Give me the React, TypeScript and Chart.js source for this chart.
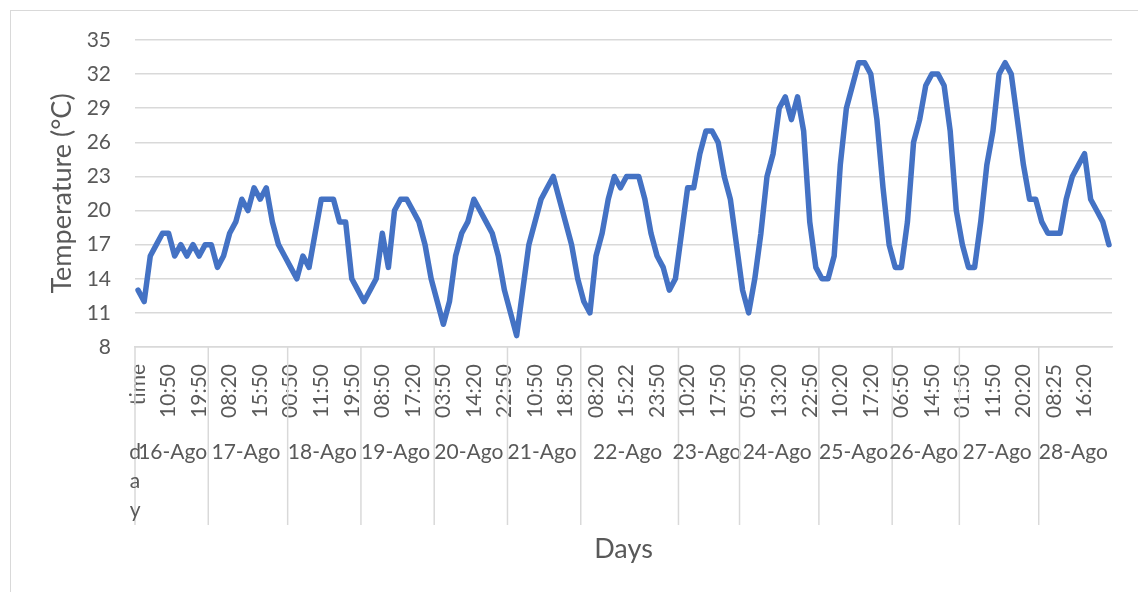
import React, { useEffect, useRef } from "react";
import { Chart, registerables } from "chart.js";

Chart.register(...registerables);

// ---- data ----
const headerDay = "day";
const headerValues = [13];
const days = ["16-Ago", "17-Ago", "18-Ago", "19-Ago", "20-Ago", "21-Ago", "22-Ago", "23-Ago", "24-Ago", "25-Ago", "26-Ago", "27-Ago", "28-Ago"];
const ago16 = [12, 16, 17, 18, 18, 16, 17, 16, 17, 16, 17];
const ago17 = [17, 15, 16, 18, 19, 21, 20, 22, 21, 22, 19, 17, 16];
const ago18 = [15, 14, 16, 15, 18, 21, 21, 21, 19, 19, 14, 13];
const ago19 = [12, 13, 14, 18, 15, 20, 21, 21, 20, 19, 17, 14];
const ago20 = [12, 10, 12, 16, 18, 19, 21, 20, 19, 18, 16, 13];
const ago21 = [11, 9, 13, 17, 19, 21, 22, 23, 21, 19, 17, 14];
const ago22 = [12, 11, 16, 18, 21, 23, 22, 23, 23, 23, 21, 18, 16, 15, 13, 14];
const ago23 = [18, 22, 22, 25, 27, 27, 26, 23, 21, 17];
const ago24 = [13, 11, 14, 18, 23, 25, 29, 30, 28, 30, 27, 19, 15];
const ago25 = [14, 14, 16, 24, 29, 31, 33, 33, 32, 28, 22, 17];
const ago26 = [15, 15, 19, 26, 28, 31, 32, 32, 31, 27, 20];
const ago27 = [17, 15, 15, 19, 24, 27, 32, 33, 32, 28, 24, 21, 21];
const ago28 = [19, 18, 18, 18, 21, 23, 24, 25, 21, 20, 19, 17];
const timeTicks = ["time", "10:50", "19:50", "08:20", "15:50", "00:50", "11:50", "19:50", "08:50", "17:20", "03:50", "14:20", "22:50", "10:50", "18:50", "08:20", "15:22", "23:50", "10:20", "17:50", "05:50", "13:20", "22:50", "10:20", "17:20", "06:50", "14:50", "01:50", "11:50", "20:20", "08:25", "16:20"];
const labelInterval = 5;
const yTicks = [8, 11, 14, 17, 20, 23, 26, 29, 32, 35];
const yTitle = "Temperature (°C)";
const xTitle = "Days";

const FONT = "Lato";
const TEXT = "#595959";
const GRID = "#d9d9d9";

export default function App() {
  const ref = useRef<HTMLCanvasElement>(null);

  useEffect(() => {
    const dayValues = [ago16, ago17, ago18, ago19, ago20, ago21, ago22, ago23, ago24, ago25, ago26, ago27, ago28];
    const groups = [{ label: headerDay, values: headerValues }].concat(
      days.map((d, i) => ({ label: d, values: dayValues[i] }))
    );
    const values = groups.flatMap((g) => g.values);
    const labels = values.map((_, i) =>
      i % labelInterval === 0 ? timeTicks[i / labelInterval] ?? "" : ""
    );

    const multiLevel = {
      id: "multiLevel",
      afterDraw(chart: any) {
        const xs = chart.scales.x;
        const { ctx, chartArea } = chart;
        const cw = xs.getPixelForValue(1) - xs.getPixelForValue(0);
        ctx.save();
        ctx.strokeStyle = GRID;
        ctx.lineWidth = 1.5;
        ctx.fillStyle = TEXT;
        ctx.font = `21px ${FONT}`;
        ctx.textAlign = "center";
        ctx.textBaseline = "middle";
        let start = 0;
        groups.forEach((g, gi) => {
          const left = xs.getPixelForValue(start) - cw / 2;
          const width = g.values.length * cw;
          if (gi !== 1) {
            ctx.beginPath();
            ctx.moveTo(left, chartArea.bottom);
            ctx.lineTo(left, chartArea.bottom + 178);
            ctx.stroke();
          }
          const cx = left + width / 2;
          const ty = chartArea.bottom + 105;
          if (width < ctx.measureText(g.label).width / 2) {
            g.label.split("").forEach((ch, k) => ctx.fillText(ch, cx - 3, ty + k * 29));
          } else {
            ctx.fillText(g.label, cx - 2, ty);
          }
          start += g.values.length;
        });
        ctx.restore();
      },
    };

    const chart = new Chart(ref.current!, {
      type: "line",
      data: {
        labels,
        datasets: [
          {
            data: values,
            borderColor: "#4472C4",
            backgroundColor: "#4472C4",
            borderWidth: 5.5,
            pointRadius: 0,
            tension: 0,
            borderJoinStyle: "round",
            borderCapStyle: "round",
          },
        ],
      },
      options: {
        responsive: false,
        animation: false,
        events: [],
        layout: { padding: { left: 0, top: 40, right: 26, bottom: 0 } },
        plugins: { legend: { display: false }, tooltip: { enabled: false } },
        scales: {
          x: {
            type: "category",
            offset: true,
            grid: { display: false, drawTicks: false },
            border: { display: true, color: GRID, width: 1.5 },
            ticks: {
              autoSkip: false,
              maxRotation: 90,
              minRotation: 90,
              padding: 17,
              color: TEXT,
              font: { family: FONT, size: 21 },
            },
            title: {
              display: true,
              text: xTitle,
              color: TEXT,
              font: { family: FONT, size: 27 },
              padding: { top: 0, bottom: 27 },
            },
            afterFit(scale: any) {
              scale.height = 245;
              scale.paddingLeft = 0;
              scale.paddingRight = 0;
            },
          },
          y: {
            min: yTicks[0],
            max: yTicks[yTicks.length - 1],
            afterBuildTicks(scale: any) {
              scale.ticks = yTicks.map((v) => ({ value: v }));
            },
            grid: { color: GRID, lineWidth: 1.5, drawTicks: false },
            border: { display: false },
            ticks: {
              padding: 24,
              color: TEXT,
              font: { family: FONT, size: 21 },
            },
            title: {
              display: true,
              text: yTitle,
              color: TEXT,
              font: { family: FONT, size: 27 },
              padding: { top: 46, bottom: 0 },
            },
            afterFit(scale: any) {
              scale.width = 135;
              scale.paddingTop = 0;
              scale.paddingBottom = 0;
            },
          },
        },
      },
      plugins: [multiLevel],
    });
    return () => chart.destroy();
  }, []);

  return (
    <div style={{ position: "fixed", left: 0, top: 0, width: 1138, height: 592, overflow: "hidden", background: "#fff" }}>
      <div
        style={{
          position: "absolute",
          left: 10,
          top: 10,
          width: 1200,
          height: 700,
          borderTop: `1.5px solid ${GRID}`,
          borderLeft: `1.5px solid ${GRID}`,
        }}
      />
      <canvas ref={ref} width={1138} height={592} style={{ position: "absolute", left: 0, top: 0, display: "block" }} />
    </div>
  );
}
